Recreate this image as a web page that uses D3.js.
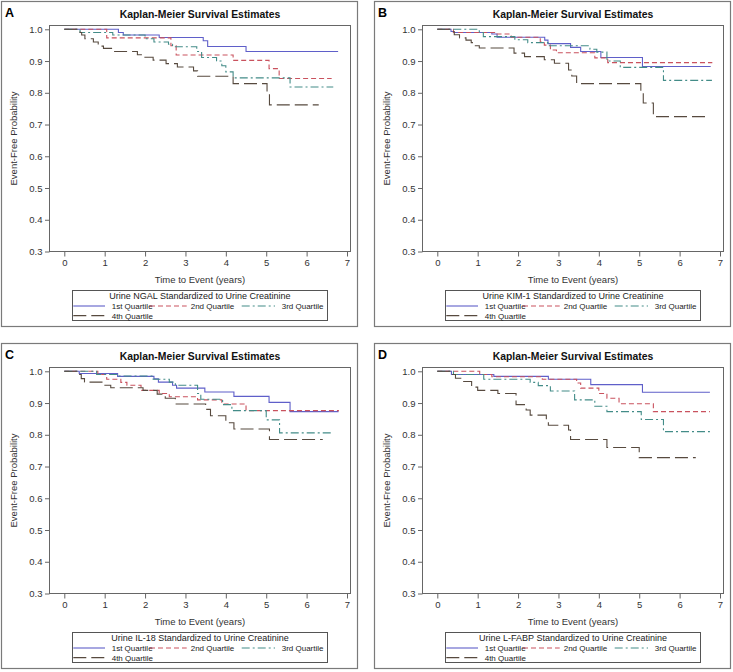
<!DOCTYPE html>
<html>
<head>
<meta charset="utf-8">
<script src="https://cdn.jsdelivr.net/npm/d3@7/dist/d3.min.js"></script>
<style>
  html, body { margin: 0; padding: 0; background: #fff; }
  svg { display: block; font-family: "Liberation Sans", Arial, sans-serif; }
</style>
</head>
<body>
<svg id="chart" width="733" height="672"></svg>
<script>
// ---------------- DATA ----------------
const panelLetters = ["A", "B", "C", "D"];
const chartTitle = "Kaplan-Meier Survival Estimates";
const xAxisTitle = "Time to Event (years)";
const yAxisTitle = "Event-Free Probability";
const legendTitles = [
  "Urine NGAL Standardized to Urine Creatinine",
  "Urine KIM-1 Standardized to Urine Creatinine",
  "Urine IL-18 Standardized to Urine Creatinine",
  "Urine L-FABP Standardized to Urine Creatinine"
];
const seriesNames = ["1st Quartile", "2nd Quartile", "3rd Quartile", "4th Quartile"];
const xTicks = [0, 1, 2, 3, 4, 5, 6, 7];
const yTicks = [0.3, 0.4, 0.5, 0.6, 0.7, 0.8, 0.9, 1.0];

// Panel A: NGAL  [time (years), event-free probability]
const ngalQ1 = [[0,1],[1.34,0.990],[1.46,0.982],[2.35,0.974],[3.44,0.964],[3.55,0.946],[4.50,0.930],[6.78,0.930]];
const ngalQ2 = [[0,1],[1.05,0.973],[2.64,0.948],[2.77,0.919],[4.18,0.902],[5.07,0.876],[5.32,0.845],[6.62,0.845]];
const ngalQ3 = [[0,1],[0.39,0.990],[1.20,0.982],[2.00,0.970],[2.22,0.960],[2.58,0.953],[2.68,0.945],[3.28,0.930],[3.40,0.911],[3.77,0.900],[3.90,0.885],[4.00,0.866],[4.18,0.847],[5.59,0.818],[6.66,0.818]];
const ngalQ4 = [[0,1],[0.39,0.990],[0.43,0.982],[0.51,0.970],[0.72,0.960],[0.84,0.947],[0.97,0.940],[1.17,0.930],[1.81,0.920],[1.98,0.912],[2.20,0.903],[2.52,0.892],[2.80,0.881],[3.20,0.869],[3.30,0.852],[4.18,0.829],[5.02,0.797],[5.08,0.762],[6.30,0.762]];

// Panel B: KIM-1
const kimQ1 = [[0,1],[0.34,0.993],[0.40,0.990],[1.35,0.985],[1.48,0.975],[2.66,0.966],[2.74,0.955],[3.30,0.943],[3.55,0.930],[4.05,0.911],[5.08,0.883],[6.77,0.883]];
const kimQ2 = [[0,1],[0.40,0.990],[1.45,0.985],[1.83,0.975],[2.55,0.960],[2.65,0.950],[2.80,0.935],[2.95,0.926],[3.90,0.910],[4.22,0.895],[6.81,0.895]];
const kimQ3 = [[0,1],[1.04,0.990],[1.14,0.977],[1.92,0.967],[2.24,0.958],[2.74,0.948],[3.78,0.937],[3.95,0.928],[4.20,0.900],[4.53,0.880],[5.60,0.839],[6.80,0.839]];
const kimQ4 = [[0,1],[0.34,0.993],[0.42,0.983],[0.55,0.973],[0.71,0.966],[0.84,0.958],[0.92,0.948],[1.04,0.941],[1.90,0.925],[2.16,0.914],[2.65,0.904],[2.90,0.893],[3.25,0.872],[3.33,0.853],[3.45,0.829],[5.04,0.800],[5.10,0.768],[5.35,0.725],[6.73,0.725]];

// Panel C: IL-18
const il18Q1 = [[0,1],[0.37,0.993],[1.32,0.984],[2.22,0.976],[2.33,0.966],[2.68,0.956],[2.78,0.947],[3.48,0.935],[4.20,0.921],[5.07,0.902],[5.59,0.873],[6.79,0.873]];
const il18Q2 = [[0,1],[0.83,0.990],[1.05,0.975],[1.40,0.965],[1.55,0.956],[1.90,0.940],[2.35,0.930],[2.60,0.920],[3.30,0.910],[3.90,0.897],[4.50,0.876],[6.80,0.876]];
const il18Q3 = [[0,1],[0.80,0.990],[1.30,0.985],[2.20,0.975],[2.60,0.966],[2.75,0.956],[3.30,0.930],[3.38,0.912],[3.92,0.895],[4.15,0.876],[5.00,0.847],[5.33,0.806],[6.63,0.806]];
const il18Q4 = [[0,1],[0.35,0.990],[0.42,0.977],[0.50,0.966],[0.95,0.956],[1.15,0.948],[1.95,0.940],[2.30,0.928],[2.50,0.915],[2.75,0.897],[3.50,0.880],[3.62,0.860],[4.00,0.838],[4.20,0.818],[5.08,0.785],[6.40,0.785]];

// Panel D: L-FABP
const fabpQ1 = [[0,1],[0.35,0.990],[1.40,0.984],[2.75,0.975],[3.80,0.958],[5.08,0.934],[6.75,0.934]];
const fabpQ2 = [[0,1],[1.05,0.990],[1.35,0.983],[2.60,0.975],[3.45,0.963],[3.55,0.947],[4.00,0.930],[4.20,0.915],[4.50,0.898],[5.35,0.873],[6.75,0.873]];
const fabpQ3 = [[0,1],[0.40,0.990],[1.15,0.975],[2.30,0.965],[2.50,0.955],[2.80,0.938],[3.40,0.910],[3.90,0.890],[4.20,0.873],[5.05,0.848],[5.60,0.810],[6.75,0.810]];
const fabpQ4 = [[0,1],[0.35,0.990],[0.45,0.978],[0.60,0.968],[0.85,0.950],[1.00,0.940],[1.50,0.930],[1.95,0.895],[2.20,0.878],[2.30,0.862],[2.70,0.840],[2.75,0.830],[3.25,0.815],[3.30,0.785],[4.20,0.760],[5.00,0.728],[6.40,0.728]];

const panelSeries = [
  [ngalQ1, ngalQ2, ngalQ3, ngalQ4],
  [kimQ1, kimQ2, kimQ3, kimQ4],
  [il18Q1, il18Q2, il18Q3, il18Q4],
  [fabpQ1, fabpQ2, fabpQ3, fabpQ4]
];

// ---------------- STYLE ----------------
const colors = ["#5f5fc9", "#c9525e", "#438c88", "#574a3f"];
const dashes = [null, "5,3", "8,3,2,3", "13,5"];
const panelOffsets = [[1, 1], [374, 1], [1, 343], [374, 343]];
const panelW = 356, panelH = 325;
const frame = { left: 48.5, right: 349.5, top: 24.5, bottom: 250.5 };

const svg = d3.select("#chart");
svg.append("rect").attr("width", 733).attr("height", 672).attr("fill", "#fff");

const x = d3.scaleLinear().domain([0, 7]).range([63.3, 346]);
const y = d3.scaleLinear().domain([0.3, 1.0]).range([250.5, 28.3]);
const line = d3.line().x(d => x(d[0])).y(d => y(d[1])).curve(d3.curveStepAfter);

panelLetters.forEach((letter, pi) => {
  const g = svg.append("g").attr("transform", `translate(${panelOffsets[pi][0]},${panelOffsets[pi][1]})`);

  // outer border
  g.append("rect").attr("x", 0.5).attr("y", 0.5).attr("width", panelW).attr("height", panelH)
    .attr("fill", "none").attr("stroke", "#7a7a7a").attr("stroke-width", 1.2);

  // letter
  g.append("text").attr("x", 4).attr("y", 15.7).attr("font-size", 12.5).attr("font-weight", "bold")
    .attr("fill", "#000").text(letter);

  // title
  g.append("text").attr("x", (frame.left + frame.right) / 2).attr("y", 17.4)
    .attr("text-anchor", "middle").attr("font-size", 10.4).attr("font-weight", "bold")
    .attr("fill", "#111").text(chartTitle);

  // frame
  g.append("rect").attr("x", frame.left).attr("y", frame.top)
    .attr("width", frame.right - frame.left).attr("height", frame.bottom - frame.top)
    .attr("fill", "none").attr("stroke", "#666").attr("stroke-width", 1);

  // axes
  const xAxis = g.append("g").attr("transform", `translate(0,${frame.bottom})`)
    .call(d3.axisBottom(x).tickValues(xTicks).tickFormat(d3.format("d")).tickSizeInner(5).tickSizeOuter(0).tickPadding(3));
  const yAxis = g.append("g").attr("transform", `translate(${frame.left},0)`)
    .call(d3.axisLeft(y).tickValues(yTicks).tickFormat(d3.format(".1f")).tickSizeInner(4.5).tickSizeOuter(0).tickPadding(2.5));
  [xAxis, yAxis].forEach(a => {
    a.select(".domain").remove();
    a.selectAll(".tick line").attr("stroke", "#666");
    a.selectAll(".tick text").attr("fill", "#333").attr("font-size", 9.5)
      .attr("font-family", '"Liberation Sans", Arial, sans-serif');
  });

  // axis titles
  g.append("text").attr("x", (frame.left + frame.right) / 2).attr("y", 282.3)
    .attr("text-anchor", "middle").attr("font-size", 9.5).attr("fill", "#333").text(xAxisTitle);
  g.append("text").attr("transform", `translate(16.3,${(frame.top + frame.bottom) / 2}) rotate(-90)`)
    .attr("text-anchor", "middle").attr("font-size", 9.5).attr("fill", "#333").text(yAxisTitle);

  // curves
  panelSeries[pi].forEach((s, si) => {
    g.append("path").attr("d", line(s)).attr("fill", "none")
      .attr("stroke", colors[si]).attr("stroke-width", 1.1)
      .attr("stroke-dasharray", dashes[si]);
  });

  // legend
  const lg = g.append("g");
  lg.append("rect").attr("x", 71.5).attr("y", 289.5).attr("width", 255).attr("height", 30)
    .attr("fill", "none").attr("stroke", "#555").attr("stroke-width", 1);
  lg.append("text").attr("x", 199).attr("y", 298).attr("text-anchor", "middle")
    .attr("font-size", 9).attr("fill", "#222").text(legendTitles[pi]);
  const entries = [
    { lx: 72.3, lx2: 104, tx: 110.7, ty: 307.9 },
    { lx: 149, lx2: 185.7, tx: 189.7, ty: 307.9 },
    { lx: 240.7, lx2: 274, tx: 280.7, ty: 307.9 },
    { lx: 72.3, lx2: 104, tx: 110.7, ty: 317.5 }
  ];
  seriesNames.forEach((name, si) => {
    const e = entries[si];
    lg.append("line").attr("x1", e.lx).attr("x2", e.lx2).attr("y1", e.ty - 2.9).attr("y2", e.ty - 2.9)
      .attr("stroke", colors[si]).attr("stroke-width", 1.1).attr("stroke-dasharray", dashes[si]);
    lg.append("text").attr("x", e.tx).attr("y", e.ty).attr("font-size", 8).attr("fill", "#222").text(name);
  });
});
</script>
</body>
</html>
